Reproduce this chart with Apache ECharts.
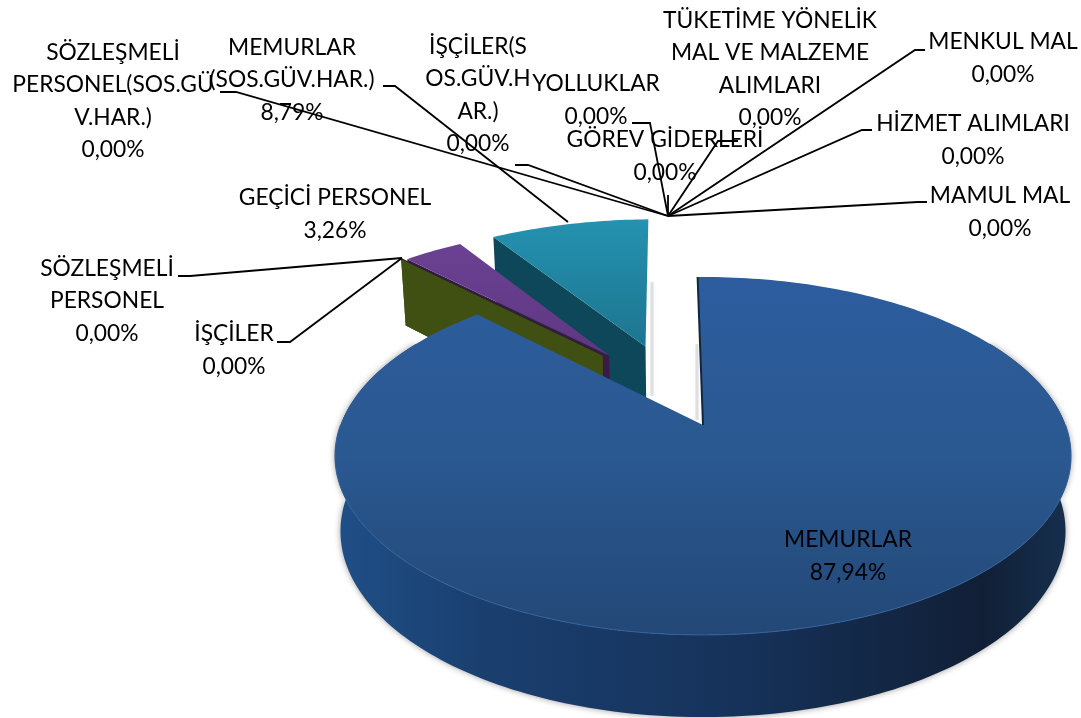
<!DOCTYPE html>
<html lang="tr">
<head>
	<meta charset="UTF-8">
	<title>Personel giderleri</title>
	<style>
		html, body { margin: 0; padding: 0; background: #fff; }
		#main { width: 1081px; height: 718px; }
	</style>
</head>
<body>
	<div id="main"></div>
	<script src="https://cdn.jsdelivr.net/npm/echarts@6/dist/echarts.min.js"></script>
	<script>
		var categories = [
			'MEMURLAR',
			'SÖZLEŞMELİ\nPERSONEL',
			'İŞÇİLER',
			'GEÇİCİ PERSONEL',
			'MEMURLAR\n(SOS.GÜV.HAR.)',
			'SÖZLEŞMELİ\nPERSONEL(SOS.GÜ\nV.HAR.)',
			'İŞÇİLER(S\nOS.GÜV.H\nAR.)',
			'YOLLUKLAR',
			'GÖREV GİDERLERİ',
			'TÜKETİME YÖNELİK\nMAL VE MALZEME\nALIMLARI',
			'MENKUL MAL',
			'HİZMET ALIMLARI',
			'MAMUL MAL'
		];
		var values = [87.94, 0, 0, 3.26, 8.79, 0, 0, 0, 0, 0, 0, 0, 0];

		// etiket merkezleri, veri disinda
		var labelCenters = [
			[848, 556], [107, 301], [234, 350], [335, 214], [292, 80], [113, 101], [478, 95],
			[596, 100], [665, 156], [770, 69], [1003, 58], [973, 140], [1000, 212]
		];
		var leaderLines = [
			null,
			[[178, 276], [190, 276], [402, 258]],
			[[277, 342], [290, 342], [402, 258]],
			null,
			[[383, 86], [395, 86], [568, 222]],
			[[220, 92], [236, 92], [668, 216]],
			[[515, 165], [528, 165], [668, 216]],
			[[632, 123], [650, 123], [668, 216]],
			[[668, 195], [668, 216]],
			[[738, 141], [718, 141], [668, 216]],
			[[925, 50], [915, 50], [668, 216]],
			[[872, 130], [862, 130], [668, 216]],
			[[927, 202], [918, 202], [668, 216]]
		];
		// dilimlerin disari kaymasi (daire duzleminde)
		var offsets = [
			[0, 0], [-0.298, -0.43], [-0.298, -0.43], [-0.278, -0.43], [-0.172, -0.49],
			[0, 0], [0, 0], [0, 0], [0, 0], [0, 0], [0, 0], [0, 0], [0, 0]
		];
		var fills = [
			{ top: ['#2d5d9f', '#2a5890', '#234877'], wall: '#173459' },
			{ wall: '#404f12' },
			{ wall: '#404f12' },
			{ top: ['#6b4193', '#5f3780'], wall: '#3a1b45' },
			{ top: ['#2492b0', '#1d7590'], wall: '#0e4759' }
		];
		var drawOrder = [4, 3, 1, 2, 0];
		var softEdges = [
			[[652, 282], [652, 396]],
			[[697, 344], [697, 420]]
		];

		// perspektif: daire -> elips
		var X0 = 703, Y0 = 425, A = 173.6, B = 362.5, K = 0.173, DEPTH = 74;
		var START_ANGLE = -0.0175;

		function project(u, v, down) {
			var den = 1 - K * v;
			var x = B * u / den;
			var y = Y0 + A * v / den;
			if (down) {
				y += DEPTH / (1 - 0.1 * v);
				x *= 0.985;
			}
			return [X0 + x, y];
		}

		function slicePoint(a, r, off, down) {
			var u = r * Math.sin(a) + off[0];
			var v = -r * Math.cos(a) + off[1];
			return project(u, v, down);
		}

		function arc(a0, a1, off, down) {
			var pts = [];
			var n = Math.max(2, Math.ceil(Math.abs(a1 - a0) / 0.02));
			for (var i = 0; i <= n; i++) {
				pts.push(slicePoint(a0 + (a1 - a0) * i / n, 1, off, down));
			}
			return pts;
		}

		function vertical(stops) {
			return new echarts.graphic.LinearGradient(0, 0, 0, 1, stops.map(function (c, i) {
				return { offset: i / (stops.length - 1), color: c };
			}));
		}

		var total = values.reduce(function (s, v) { return s + v; }, 0);
		var starts = [];
		values.reduce(function (s, v, i) {
			starts[i] = s;
			return s + v;
		}, 0);

		function sliceElements(i) {
			var f = fills[i];
			var a0 = START_ANGLE + starts[i] / total * Math.PI * 2;
			var a1 = START_ANGLE + (starts[i] + values[i]) / total * Math.PI * 2;
			var off = offsets[i];
			var out = [];
			var base = drawOrder.indexOf(i) * 10 + 1;

			// sol radyal duvar
			if (i !== 0) {
				var wall = [
					slicePoint(a0, 1, off),
					slicePoint(a0, 0, off),
					slicePoint(a0, 0, off, true),
					slicePoint(a0, 1, off, true)
				];
				out.push({ type: 'polygon', z2: base, shape: { points: wall }, style: { fill: f.wall } });
			}

			if (i === 0) {
				// on yuz
				var sideTop = arc(Math.PI * 0.33, Math.PI * 1.67, off);
				var sideBottom = arc(Math.PI * 1.67, Math.PI * 0.33, off, true);
				out.push({
					type: 'polygon', z2: base,
					shape: { points: sideTop.concat(sideBottom) },
					style: {
						fill: new echarts.graphic.LinearGradient(1, 0, 0, 0, [
							{ offset: 0, color: '#16304f' },
							{ offset: 0.12, color: '#111f36' },
							{ offset: 0.45, color: '#16325a' },
							{ offset: 0.8, color: '#1a3f6f' },
							{ offset: 1, color: '#1f4f87' }
						]),
						shadowColor: 'rgba(0,0,0,0.4)',
						shadowBlur: 6
					}
				});
			}

			if (f.top) {
				var top = [slicePoint(a0, 0, off)].concat(arc(a0, a1, off));
				out.push({
					type: 'polygon', z2: base + 1,
					shape: { points: top },
					style: { fill: vertical(f.top) }
				});
			}
			if (i === 0) {
				out.push({
					type: 'polyline', z2: base + 2,
					shape: { points: arc(Math.PI * 0.5, Math.PI * 1.5, off) },
					style: { fill: null, stroke: '#33629c', lineWidth: 1 }
				});
				out.push({
					type: 'polyline', z2: base + 2,
					shape: { points: [slicePoint(a0, 1, off), slicePoint(a0, 0, off)] },
					style: { fill: null, stroke: '#14263f', lineWidth: 2 }
				});
				softEdges.forEach(function (pts) {
					out.push({
						type: 'polyline', z2: 0,
						shape: { points: pts },
						style: { fill: null, stroke: 'rgba(130,130,150,0.22)', lineWidth: 3, shadowColor: 'rgba(130,130,150,0.5)', shadowBlur: 4 }
					});
				});
			}
			if (i === 1) {
				out.push({
					type: 'polyline', z2: base + 9,
					shape: { points: [slicePoint(a0, 1, off), slicePoint(a0, 0, off)] },
					style: { fill: null, stroke: '#26222e', lineWidth: 2 }
				});
			}
			return out;
		}

		var myChart = echarts.init(document.getElementById('main'), null, { renderer: 'canvas' });

		myChart.setOption({
			backgroundColor: '#ffffff',
			animation: false,
			series: [{
				type: 'custom',
				coordinateSystem: 'none',
				silent: true,
				data: values,
				renderItem: function (params) {
					var i = params.dataIndex;
					var children = values[i] > 0 || fills[i] ? sliceElements(i) : [];
					if (leaderLines[i]) {
						children.push({
							type: 'polyline', z2: 70,
							shape: { points: leaderLines[i] },
							style: { fill: null, stroke: '#000000', lineWidth: 1.8 }
						});
					}
					children.push({
						type: 'text', z2: 80,
						style: {
							text: categories[i] + '\n' + values[i].toFixed(2).replace('.', ',') + '%',
							x: labelCenters[i][0],
							y: labelCenters[i][1],
							align: 'center',
							verticalAlign: 'middle',
							fontFamily: 'Lato',
							fontSize: 22.8,
							lineHeight: 32.5,
							fill: '#000000'
						}
					});
					return { type: 'group', children: children };
				}
			}]
		});
	</script>
</body>
</html>
